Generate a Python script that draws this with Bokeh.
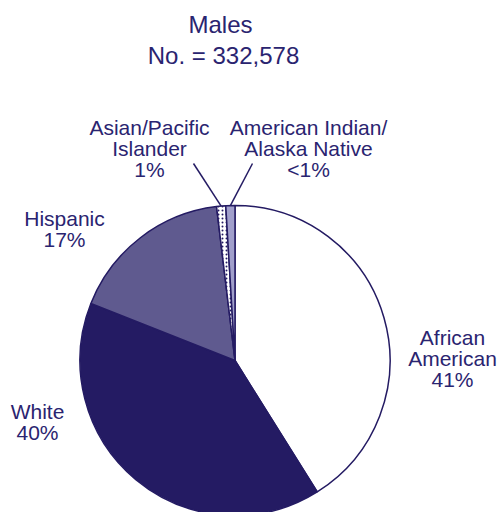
import math
from bokeh.plotting import figure
from bokeh.models import Range1d, ColumnDataSource
from bokeh.core.properties import value
from bokeh.embed import file_html
from bokeh.resources import INLINE

# ---- data ----
categories = ["African American", "White", "Hispanic", "Asian/Pacific Islander", "American Indian/Alaska Native"]
shares = [41.1, 39.9, 17.1, 0.95, 0.95]
pct_labels = ["41%", "40%", "17%", "1%", "<1%"]
label_lines = [["African", "American"], ["White"], ["Hispanic"], ["Asian/Pacific", "Islander"], ["American Indian/", "Alaska Native"]]
title_lines = ["Males", "No. = 332,578"]

# ---- style / layout ----
NAVY = "#241B63"
TEXT = "#2A2470"
fills = ["#FFFFFF", "#241B63", "#5F5A8F", "#FFFFFF", "#A19FCB"]
hatches = [" ", " ", " ", ".", " "]
W, H = 500, 512
cx, cy, R = 234.5, 512 - 360, 155
TOFF = 8  # text baseline correction
# label anchors: (center x, first baseline screen y)
label_pos = [(452, 344.5), (37, 419), (64, 226), (149, 135), (308, 135)]
leader_start = [None, None, None, (193, 163), (252, 163)]
LS = 21

p = figure(width=W, height=H, x_range=Range1d(0, W), y_range=Range1d(0, H),
           output_backend="svg", toolbar_location=None, min_border=0)
p.axis.visible = False
p.grid.visible = False
p.outline_line_color = None
p.background_fill_color = "white"
p.border_fill_color = "white"

total = sum(shares)
starts, ends, mids = [], [], []
cum = 0.0
for s in shares:
    a0 = math.pi / 2 - 2 * math.pi * cum / total
    cum += s
    a1 = math.pi / 2 - 2 * math.pi * cum / total
    starts.append(a0); ends.append(a1); mids.append((a0 + a1) / 2)

src = ColumnDataSource(dict(start=starts, end=ends, fill=fills, hatch=hatches))
p.wedge(x=cx, y=cy, radius=R, start_angle="start", end_angle="end", direction="clock",
        fill_color="fill", line_color=NAVY, line_width=1.5, hatch_pattern="hatch",
        hatch_color=NAVY, hatch_scale=4, hatch_weight=1.2, source=src)

# leader lines
x0s, y0s, x1s, y1s = [], [], [], []
for i, st in enumerate(leader_start):
    if st is None:
        continue
    x0s.append(st[0]); y0s.append(512 - st[1])
    x1s.append(cx + R * math.cos(mids[i])); y1s.append(cy + R * math.sin(mids[i]))
p.segment(x0=x0s, y0=y0s, x1=x1s, y1=y1s, line_color=NAVY, line_width=1.5)

# labels
tx, ty, tt = [], [], []
for i, (lx, ly) in enumerate(label_pos):
    lines = label_lines[i] + [pct_labels[i]]
    for j, ln in enumerate(lines):
        tx.append(lx); ty.append(512 - (ly - TOFF + j * LS)); tt.append(ln)
p.text(x=tx, y=ty, text=tt, text_font=value("Liberation Sans"), text_font_size="21px",
       text_align="center", text_baseline="alphabetic", text_color=TEXT)

# title
p.text(x=[220, 223], y=[512 - 32 + TOFF, 512 - 63 + TOFF], text=title_lines, text_font=value("Liberation Sans"),
       text_font_size="24px", text_align="center", text_baseline="alphabetic", text_color=TEXT)

open("out.html", "w").write(file_html(p, INLINE))
